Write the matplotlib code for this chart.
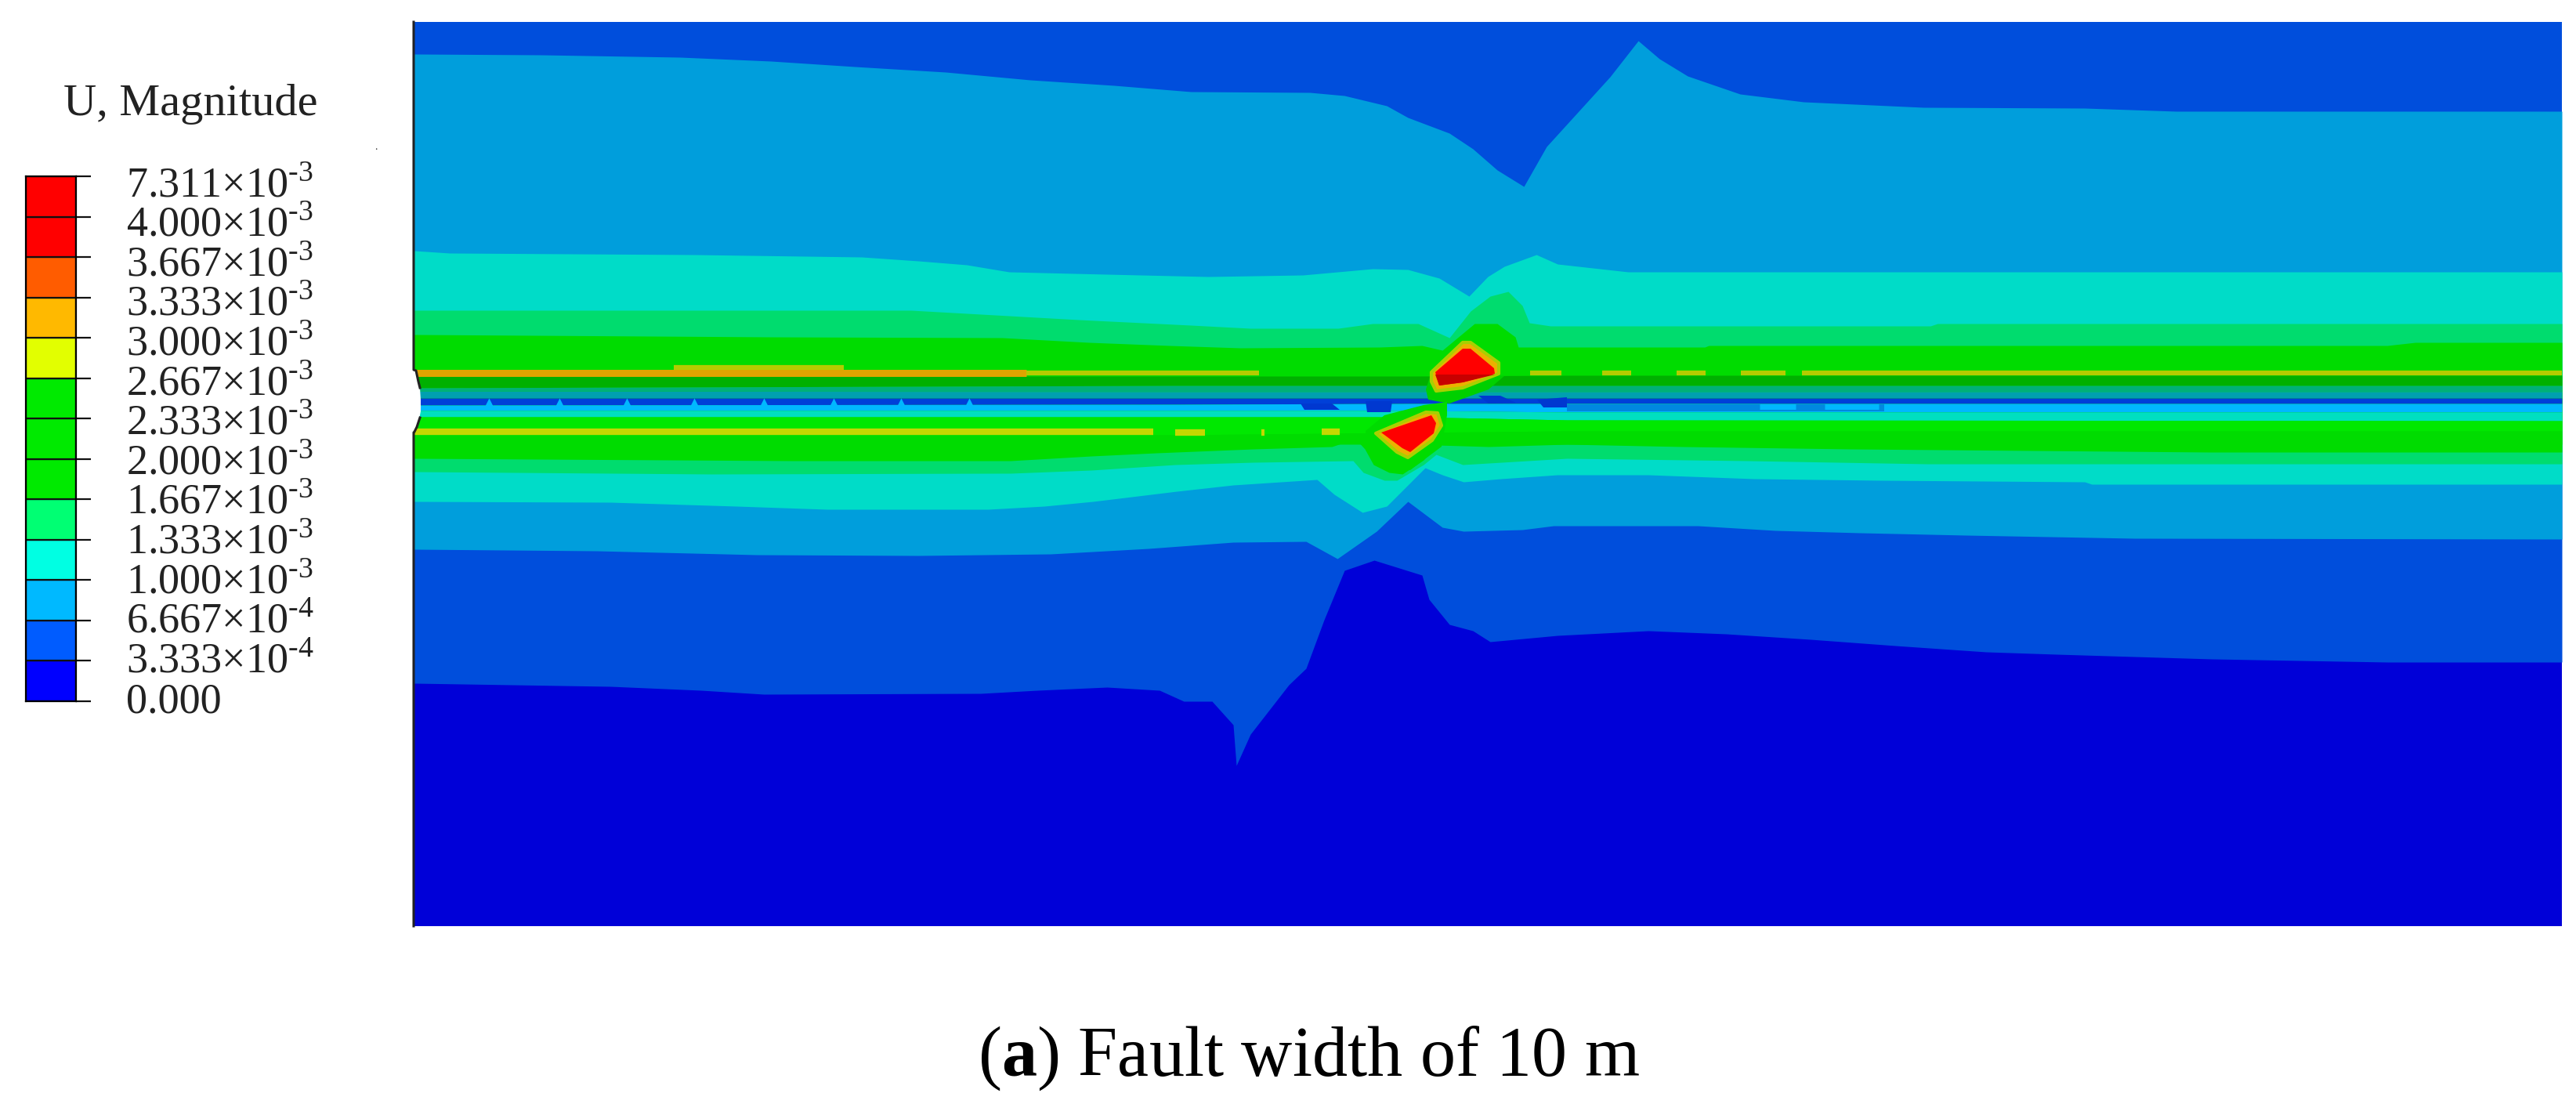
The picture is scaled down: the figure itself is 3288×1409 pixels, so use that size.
# plot.py - U magnitude contour bands around a fault, rebuilt from values
import matplotlib
matplotlib.use('Agg')
import matplotlib.pyplot as plt

plt.rcParams['font.family'] = ['Liberation Serif', 'DejaVu Serif']
plt.rcParams['mathtext.fontset'] = 'custom'
plt.rcParams['mathtext.rm'] = 'Liberation Serif'
plt.rcParams['mathtext.bf'] = 'Liberation Serif:bold'

W, H = 3288, 1409

# legend
LEGEND_TITLE = 'U, Magnitude'
LEVELS = ['0.000', '3.333×10$^{\\text{-}4}$', '6.667×10$^{\\text{-}4}$', '1.000×10$^{\\text{-}3}$',
          '1.333×10$^{\\text{-}3}$', '1.667×10$^{\\text{-}3}$', '2.000×10$^{\\text{-}3}$',
          '2.333×10$^{\\text{-}3}$', '2.667×10$^{\\text{-}3}$', '3.000×10$^{\\text{-}3}$',
          '3.333×10$^{\\text{-}3}$', '3.667×10$^{\\text{-}3}$', '4.000×10$^{\\text{-}3}$',
          '7.311×10$^{\\text{-}3}$']
LEVEL_COLORS = ['#0000ff', '#005cff', '#00b9ff', '#00ffe3', '#00ff73', '#00ea00', '#00ea00', '#00ea00',
                '#e2ff00', '#ffb900', '#ff5c00', '#ff0000', '#ff0000']
CAPTION = '($\\mathbf{a}$) Fault width of 10 m'

# contour boundaries above the fault (x, y in image pixels of the model view)
A_X = [529, 690, 868, 984, 1091, 1207, 1315, 1422, 1520, 1672, 1716, 1770, 1797, 1850, 1880, 1911, 1945, 1974,
       2055, 2091, 2118, 2154, 2221, 2302, 2455, 2661, 2778, 3270]
A_Y = [69, 70, 73, 78, 85, 92, 102, 109, 117, 118, 122, 135, 150, 170, 190, 217, 238, 187,
       98, 52, 75, 97, 120, 130, 137, 138, 142, 142]
B_X = [529, 574, 886, 1100, 1172, 1234, 1288, 1413, 1542, 1663, 1752, 1797, 1837, 1875, 1899, 1920, 1961, 1988,
       2078, 3270]
B_Y = [320, 323, 325, 328, 333, 338, 347, 350, 353, 351, 343, 344, 355, 378, 353, 340, 325, 337, 347, 347]
C_X = [529, 1163, 1270, 1377, 1520, 1596, 1708, 1752, 1810, 1850, 1877, 1902, 1925, 1943, 1952, 1979, 2464,
       2473, 3270]
C_Y = [396, 396, 402, 408, 415, 419, 419, 413, 413, 431, 397, 378, 372, 390, 412, 416, 416, 413, 413]
D_X = [529, 984, 1279, 1390, 1493, 1583, 1761, 1815, 1841, 1882, 1911, 1934, 1938, 2176, 2181, 3047, 3083, 3270]
D_Y = [427, 430, 431, 437, 441, 444, 443, 441, 447, 413, 413, 430, 443, 443, 441, 441, 437, 437]

# contour boundaries below the fault
E_X = [529, 1010, 1290, 1393, 1476, 1600, 1700, 1730, 1742, 1753, 1773, 1790, 1817, 1833, 1900, 2000, 2148, 2361,
       2821, 3270]
E_Y = [585, 588, 588, 582, 578, 573, 570, 560, 573, 593, 603, 605, 587, 568, 570, 567, 570, 573, 577, 577]
F_X = [529, 908, 1290, 1393, 1500, 1600, 1727, 1740, 1767, 1783, 1817, 1833, 1867, 2000, 2230, 2460, 3270]
F_Y = [602, 605, 604, 600, 593, 590, 588, 603, 613, 613, 593, 580, 593, 585, 588, 592, 592]
G_X = [529, 779, 940, 1056, 1261, 1333, 1395, 1502, 1574, 1681, 1703, 1739, 1770, 1819, 1841, 1868, 1916, 1988,
       2104, 2239, 2401, 2661, 2670, 3270]
G_Y = [640, 641, 646, 650, 650, 646, 640, 627, 619, 612, 631, 654, 646, 597, 606, 615, 611, 606, 606, 611, 613,
       615, 618, 618]
H_X = [529, 761, 966, 1172, 1341, 1466, 1574, 1667, 1707, 1757, 1797, 1841, 1868, 1943, 1983, 2167, 2266, 2374,
       2509, 2724, 3270]
H_Y = [701, 703, 708, 709, 707, 700, 692, 691, 713, 678, 640, 673, 678, 676, 671, 671, 677, 680, 683, 687, 688]
I_X = [529, 779, 895, 975, 1252, 1324, 1413, 1480, 1511, 1547, 1574, 1578, 1596, 1645, 1667, 1690, 1716, 1754,
       1815, 1824, 1850, 1880, 1902, 1988, 2104, 2203, 2311, 2419, 2535, 2625, 2823, 3047, 3270]
I_Y = [872, 876, 881, 886, 885, 881, 877, 881, 895, 895, 925, 977, 937, 874, 853, 791, 728, 715,
       734, 765, 797, 805, 819, 811, 805, 809, 816, 824, 832, 835, 841, 845, 845]

# thin stripes along the fault plane, tops of each stripe at STRIPE_X
STRIPE_X = [529, 1500, 1800, 2000, 3270]
STRIPE_TOPS = [[480, 480, 480, 479, 479], [495, 492, 492, 492, 492], [499, 500, 500, 500, 500],
               [508, 508, 508, 508, 508], [517, 516, 515, 515, 515], [524, 524, 524, 526, 526],
               [532, 532, 532, 536, 537], [555, 555, 552, 550, 550], [567, 567, 567, 567, 567]]
STRIPE_COLORS = ['#00b000', '#00b078', '#00a0b0', '#0040d8', '#00b8ff', '#00dfc0', '#00e800', '#00dc00']

# patches in the noisy stripe section
NOISE_BLUE_X = [[1660, 1700, 1710, 1665], [1743, 1777, 1775, 1745], [1887, 1915, 1935, 1900],
                [1962, 2000, 2000, 1970]]
NOISE_BLUE_Y = [[515, 515, 523, 523], [512, 512, 526, 526], [505, 505, 514, 515], [510, 507, 520, 520]]
MESH_BUMP_X = [624, 714, 800, 886, 975, 1064, 1150, 1237]
BROKEN_SKY_X = [2000, 2405]
SKY_DASH_X0 = [2246, 2329]
SKY_DASH_X1 = [2292, 2398]

# yellow-orange slivers along the two fault faces (start, end)
UPPER_ORANGE = [529, 1310]
UPPER_YELLOW_X0 = [860, 1310, 2045, 2140, 2222, 2300, 1953]
UPPER_YELLOW_X1 = [1077, 1607, 2082, 2177, 2279, 3270, 1993]
UPPER_YELLOW_Y = [469, 476, 476, 476, 476, 476, 476]
LOWER_YELLOW_X0 = [529, 1450, 1500, 1610, 1687]
LOWER_YELLOW_X1 = [1450, 1472, 1538, 1614, 1710]
LOWER_YELLOW_Y = [551, 551, 552, 552, 551]

# stress-concentration blobs
UP_GREEN_X = [1827, 1820, 1823, 1850, 1900, 1920]
UP_GREEN_Y = [475, 497, 510, 515, 497, 480]
UP_HALO_X = [1827, 1867, 1877, 1913, 1913, 1867, 1833, 1827]
UP_HALO_Y = [475, 437, 437, 463, 477, 495, 499, 487]
UP_RED_X = [1832, 1867, 1877, 1907, 1908, 1867, 1837]
UP_RED_Y = [475, 445, 445, 470, 477, 488, 492]
UP_DARK_X = [1832, 1908, 1867, 1837]
UP_DARK_Y = [478, 478, 488, 492]
LOW_GREEN_X = [1743, 1767, 1817, 1847, 1847, 1840, 1800, 1745]
LOW_GREEN_Y = [550, 530, 517, 513, 530, 570, 600, 575]
LOW_HALO_X = [1756, 1820, 1835, 1840, 1828, 1797, 1783]
LOW_HALO_Y = [553, 526, 527, 543, 562, 584, 577]
LOW_RED_X = [1763, 1827, 1833, 1830, 1800, 1790]
LOW_RED_Y = [552, 530, 540, 553, 577, 572]

# tunnel wall on the left side, white notch between the two faces
NOTCH_X = [528, 531, 534, 536, 537, 537, 535, 532, 529, 528]
NOTCH_Y = [472, 473, 487, 495, 510, 525, 535, 545, 551, 552]
WALL_TOP_X = [528, 528, 531, 534, 536]
WALL_TOP_Y = [28, 472, 473, 487, 495]
WALL_LOW_X = [536, 532, 529, 528, 528]
WALL_LOW_Y = [533, 545, 551, 552, 1182]

fig = plt.figure(figsize=(W / 100, H / 100), dpi=100, facecolor='white')

# model view
ax = fig.add_axes([528 / W, 1 - 1182 / H, (3270 - 528) / W, (1182 - 28) / H])
ax.set_xlim(528, 3270)
ax.set_ylim(1182, 28)
ax.axis('off')
ax.fill_between([528, 3270], 28, 500, color='#004edc', lw=0)
ax.fill_between([528, 3270], 500, 1182, color='#0000d8', lw=0)
MID = 500
for xs, ys, col in [(A_X, A_Y, '#009edc'), (B_X, B_Y, '#00dcc8'), (C_X, C_Y, '#00dc6e'), (D_X, D_Y, '#00dc00')]:
    ax.fill_between([528] + xs, [ys[0]] + ys, MID, color=col, lw=0)
for xs, ys, col in [(I_X, I_Y, '#004edc'), (H_X, H_Y, '#009edc'), (G_X, G_Y, '#00dcc8'),
                    (F_X, F_Y, '#00dc6e'), (E_X, E_Y, '#00dc00')]:
    ax.fill_between([528] + xs, [ys[0]] + ys, MID, color=col, lw=0)

for i, col in enumerate(STRIPE_COLORS):
    ax.fill_between(STRIPE_X, STRIPE_TOPS[i], STRIPE_TOPS[i + 1], color=col, lw=0)

# sky stripe is broken up right of the fault
ax.fill_between(BROKEN_SKY_X, 516, 525, color='#0088e0', lw=0)
ax.hlines([519] * len(SKY_DASH_X0), SKY_DASH_X0, SKY_DASH_X1, color='#00b8ff', lw=5)
ax.scatter(MESH_BUMP_X, [513] * len(MESH_BUMP_X), marker='^', s=55, color='#00b8ff', lw=0)
for xs, ys in zip(NOISE_BLUE_X, NOISE_BLUE_Y):
    ax.fill(xs, ys, color='#0038d0', lw=0)

# face slivers
ax.hlines(476, UPPER_ORANGE[0], UPPER_ORANGE[1], color='#e0a400', lw=6.5)
ax.hlines(UPPER_YELLOW_Y, UPPER_YELLOW_X0, UPPER_YELLOW_X1, color='#b4cc00', lw=4.5)
ax.hlines(LOWER_YELLOW_Y, LOWER_YELLOW_X0, LOWER_YELLOW_X1, color='#c4d800', lw=6)

for xs, ys, col in [(UP_GREEN_X, UP_GREEN_Y, '#00d000'), (LOW_GREEN_X, LOW_GREEN_Y, '#00dc00')]:
    ax.fill(xs, ys, color=col, lw=0)
for xs, ys in [(UP_HALO_X, UP_HALO_Y), (LOW_HALO_X, LOW_HALO_Y)]:
    ax.fill(xs, ys, facecolor='#ecb000', edgecolor='#a8d000', lw=3, joinstyle='round')
for xs, ys, col in [(UP_RED_X, UP_RED_Y, '#ff0000'), (UP_DARK_X, UP_DARK_Y, '#c80000'),
                    (LOW_RED_X, LOW_RED_Y, '#ff0000')]:
    ax.fill(xs, ys, color=col, lw=0)

# tunnel wall
ax.fill(NOTCH_X, NOTCH_Y, color='white', lw=0, zorder=4)
ax.plot(WALL_TOP_X, WALL_TOP_Y, color='#222222', lw=2.2, clip_on=False, zorder=5)
ax.plot(WALL_LOW_X, WALL_LOW_Y, color='#222222', lw=2.2, clip_on=False, zorder=5)

# legend bar, labels sit a little tighter than the ticks
cb = fig.add_axes([33 / W, 1 - 895 / H, (97 - 33) / W, (895 - 225) / H])
cb.barh(range(len(LEVEL_COLORS)), [1] * len(LEVEL_COLORS), height=1, left=0, align='edge',
        color=LEVEL_COLORS, edgecolor='#111111', lw=1.6)
cb.set_xlim(0, 1)
cb.set_ylim(0, len(LEVEL_COLORS))
cb.set_xticks([])
cb.yaxis.tick_right()
cb.set_yticks(range(len(LEVELS)))
cb.set_yticklabels([])
cb.tick_params(axis='y', length=14, width=1.6, color='#111111')
for s in cb.spines.values():
    s.set_linewidth(1.6)
for i, lab in enumerate(LEVELS):
    cb.annotate(lab, xy=(1, i), xycoords=('axes fraction', 'data'),
                xytext=(64 * 0.72, -(14 + i * 12 / 13) * 0.72), textcoords='offset points',
                fontsize=39, color='#222222', va='baseline', ha='left')

fig.text(243 / W, 1 - 133 / H, LEGEND_TITLE, fontsize=42, color='#222222', ha='center', va='center')
fig.text(480 / W, 1 - 191 / H, '.', fontsize=10, color='#333333', ha='center', va='baseline')
fig.text(1671 / W, 1 - 1373 / H, CAPTION, fontsize=65, color='black', ha='center', va='baseline')

fig.savefig('out.png', dpi=100)
print('saved')
